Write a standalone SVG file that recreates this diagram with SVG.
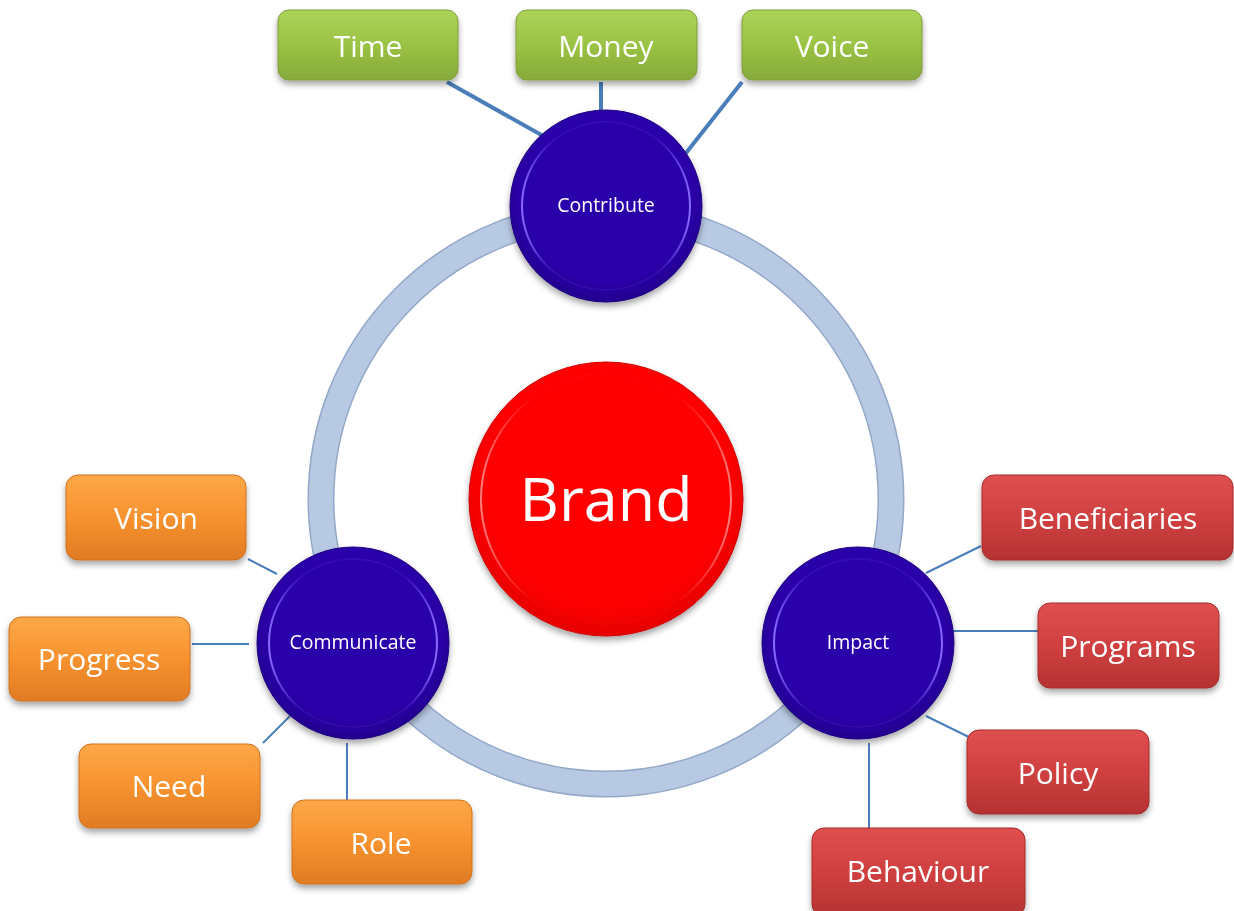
<svg xmlns="http://www.w3.org/2000/svg" width="1234" height="911" viewBox="0 0 1234 911">
<defs>
<filter id="sh" x="-20%" y="-20%" width="140%" height="150%"><feDropShadow dx="0" dy="4" stdDeviation="3" flood-color="#000" flood-opacity="0.35"/></filter>
<radialGradient id="gBlue" cx="50%" cy="45%" r="55%"><stop offset="0.8" stop-color="#2c00aa"/><stop offset="1" stop-color="#22008e"/></radialGradient>
<linearGradient id="gRim" x1="0" y1="0" x2="1" y2="0"><stop offset="0" stop-color="#8a6cff"/><stop offset="0.2" stop-color="#5a3ae0" stop-opacity="0.15"/><stop offset="0.8" stop-color="#5a3ae0" stop-opacity="0.15"/><stop offset="1" stop-color="#8a6cff"/></linearGradient>
<radialGradient id="gRed" cx="50%" cy="45%" r="55%"><stop offset="0.8" stop-color="#ff0000"/><stop offset="1" stop-color="#e60000"/></radialGradient>
<linearGradient id="gRimR" x1="0" y1="0" x2="1" y2="0"><stop offset="0" stop-color="#ff8080"/><stop offset="0.2" stop-color="#ff4040" stop-opacity="0.1"/><stop offset="0.8" stop-color="#ff4040" stop-opacity="0.1"/><stop offset="1" stop-color="#ff8080"/></linearGradient>
<linearGradient id="gGreen" x1="0" y1="0" x2="0" y2="1"><stop offset="0" stop-color="#acd25a"/><stop offset="0.5" stop-color="#9bc344"/><stop offset="1" stop-color="#86a93a"/></linearGradient>
<linearGradient id="gOrange" x1="0" y1="0" x2="0" y2="1"><stop offset="0" stop-color="#fda848"/><stop offset="0.5" stop-color="#f7922f"/><stop offset="1" stop-color="#e07b24"/></linearGradient>
<linearGradient id="gRedBox" x1="0" y1="0" x2="0" y2="1"><stop offset="0" stop-color="#df5050"/><stop offset="0.5" stop-color="#d04040"/><stop offset="1" stop-color="#b53232"/></linearGradient>
</defs>
<style>
.lbl{font-family:"Open Sans","Liberation Sans",sans-serif;fill:#fff;text-anchor:middle}
.box{font-size:30px}
.hub{font-size:19.5px}
.c1{stroke:#4a7ebb;stroke-width:4;fill:none}
.c2{stroke:#4a7ebb;stroke-width:2;fill:none}
.green{fill:url(#gGreen);stroke:#7f9e3a;stroke-width:1}
.orange{fill:url(#gOrange);stroke:#d0731f;stroke-width:1}
.red{fill:url(#gRedBox);stroke:#a52c2c;stroke-width:1}
</style>
<rect width="1234" height="911" fill="#fff"/>
<g id="ring">
<circle cx="606" cy="499" r="285" fill="none" stroke="#93a8c8" stroke-width="27"/>
<circle cx="606" cy="499" r="285" fill="none" stroke="#b8c9e3" stroke-width="24"/>
</g>
<g id="connectors">
<line class="c1" x1="447" y1="82" x2="545" y2="137"/>
<line class="c1" x1="601" y1="82" x2="601" y2="110"/>
<line class="c1" x1="742" y1="82" x2="686" y2="153"/>
<line class="c2" x1="248" y1="559" x2="277" y2="574"/>
<line class="c2" x1="192" y1="644" x2="249" y2="644"/>
<line class="c2" x1="263" y1="743" x2="290" y2="716"/>
<line class="c2" x1="347" y1="743" x2="347" y2="800"/>
<line class="c2" x1="926" y1="573" x2="981" y2="546"/>
<line class="c2" x1="953" y1="631" x2="1038" y2="631"/>
<line class="c2" x1="926" y1="716" x2="981" y2="743"/>
<line class="c2" x1="869" y1="743" x2="869" y2="828"/>
</g>
<g id="brand" filter="url(#sh)">
<circle cx="606" cy="499" r="137" fill="url(#gRed)" stroke="#d00000" stroke-width="1"/>
<circle cx="606" cy="499" r="125" fill="none" stroke="url(#gRimR)" stroke-width="2"/>
<text class="lbl" x="606" y="521" font-size="61">Brand</text>
</g>
<g id="contribute" filter="url(#sh)">
<circle cx="606" cy="206" r="96" fill="url(#gBlue)" stroke="#1e0080" stroke-width="1"/>
<circle cx="606" cy="206" r="84" fill="none" stroke="url(#gRim)" stroke-width="2"/>
<text class="lbl hub" x="606" y="212">Contribute</text>
</g>
<g id="communicate" filter="url(#sh)">
<circle cx="353" cy="643" r="96" fill="url(#gBlue)" stroke="#1e0080" stroke-width="1"/>
<circle cx="353" cy="643" r="84" fill="none" stroke="url(#gRim)" stroke-width="2"/>
<text class="lbl hub" x="353" y="649">Communicate</text>
</g>
<g id="impact" filter="url(#sh)">
<circle cx="858" cy="643" r="96" fill="url(#gBlue)" stroke="#1e0080" stroke-width="1"/>
<circle cx="858" cy="643" r="84" fill="none" stroke="url(#gRim)" stroke-width="2"/>
<text class="lbl hub" x="858" y="649">Impact</text>
</g>
<g id="time" filter="url(#sh)"><rect class="green" x="278" y="10" width="180" height="70" rx="11"/><text class="lbl box" x="368" y="57">Time</text></g>
<g id="money" filter="url(#sh)"><rect class="green" x="516" y="10" width="181" height="70" rx="11"/><text class="lbl box" x="606" y="57">Money</text></g>
<g id="voice" filter="url(#sh)"><rect class="green" x="742" y="10" width="180" height="70" rx="11"/><text class="lbl box" x="832" y="57">Voice</text></g>
<g id="vision" filter="url(#sh)"><rect class="orange" x="66" y="475" width="180" height="85" rx="12"/><text class="lbl box" x="156" y="529">Vision</text></g>
<g id="progress" filter="url(#sh)"><rect class="orange" x="9" y="617" width="181" height="84" rx="12"/><text class="lbl box" x="99" y="670">Progress</text></g>
<g id="need" filter="url(#sh)"><rect class="orange" x="79" y="744" width="181" height="84" rx="12"/><text class="lbl box" x="169" y="797">Need</text></g>
<g id="role" filter="url(#sh)"><rect class="orange" x="292" y="800" width="180" height="84" rx="12"/><text class="lbl box" x="381" y="854">Role</text></g>
<g id="beneficiaries" filter="url(#sh)"><rect class="red" x="982" y="475" width="251" height="85" rx="12"/><text class="lbl box" x="1108" y="529">Beneficiaries</text></g>
<g id="programs" filter="url(#sh)"><rect class="red" x="1038" y="603" width="181" height="85" rx="12"/><text class="lbl box" x="1128" y="657">Programs</text></g>
<g id="policy" filter="url(#sh)"><rect class="red" x="967" y="730" width="182" height="84" rx="12"/><text class="lbl box" x="1058" y="784">Policy</text></g>
<g id="behaviour" filter="url(#sh)"><rect class="red" x="812" y="828" width="213" height="88" rx="12"/><text class="lbl box" x="918" y="882">Behaviour</text></g>
</svg>
